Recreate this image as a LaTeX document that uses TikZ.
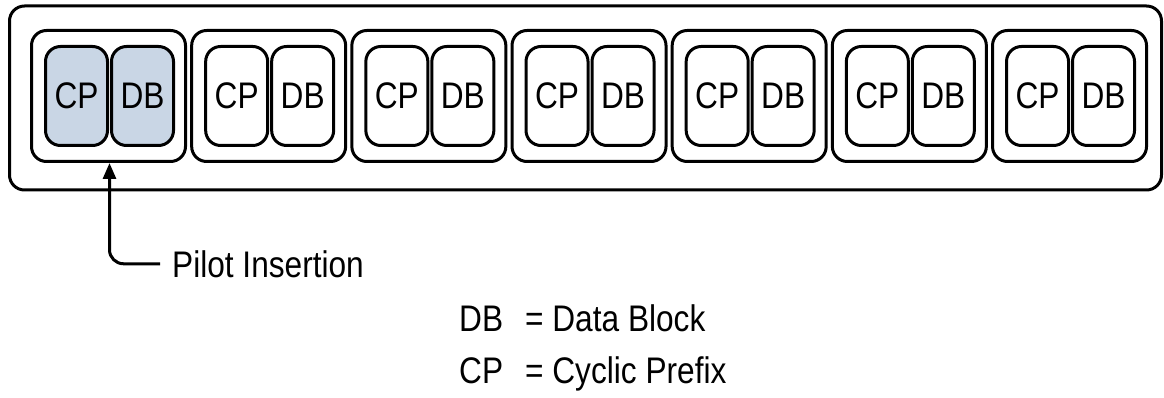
\documentclass[tikz,border=0pt]{standalone}
\usepackage{fontspec}
\setmainfont{Liberation Sans}[FakeStretch=0.855]
\usetikzlibrary{arrows.meta,calc}
\definecolor{PilotClr}{RGB}{201,214,229}

\begin{document}
\begin{tikzpicture}[x=1pt,y=-1pt,font=\fontsize{37}{40}\selectfont,
  frame/.style={draw,line width=3pt,rounded corners=15pt,inner sep=0pt},
  grp/.style={frame,minimum width=154pt,minimum height=131pt},
  blk/.style={frame,minimum width=62pt,minimum height=99pt},
  lbl/.style={inner sep=0pt,anchor=base west}]
\useasboundingbox (0,0) rectangle (1164,398);

\node[frame,minimum width=1152pt,minimum height=184pt] (frame) at (585.5,98) {};
\foreach \i in {1,...,7}{
  \pgfmathsetmacro{\gx}{30+160.17*(\i-1)}
  \ifnum\i=1 \def\clr{PilotClr}\else\def\clr{white}\fi
  \node[grp] (g\i) at (\gx+78.5,96) {};
  \node[blk,fill=\clr] (cp\i) at (\gx+46.5,96) {CP};
  \node[blk,fill=\clr] (db\i) at (\gx+112.5,96) {DB};
}

\node[lbl] (pilot) at (172,277) {Pilot Insertion};
\coordinate (tail) at ([xshift=-12pt]pilot.west);
\coordinate (tip) at ($(cp1.east)!.5!(db1.west)$);
\draw[line width=3pt,rounded corners=14pt,-{Triangle[length=16pt,width=13pt]}]
  (tail) -| (tip |- g1.south);

\node[lbl] (dbkey) at (459,331) {DB\hspace{22pt}= Data Block};
\node[lbl] (cpkey) at (459,383) {CP\hspace{22pt}= Cyclic Prefix};
\end{tikzpicture}
\end{document}
